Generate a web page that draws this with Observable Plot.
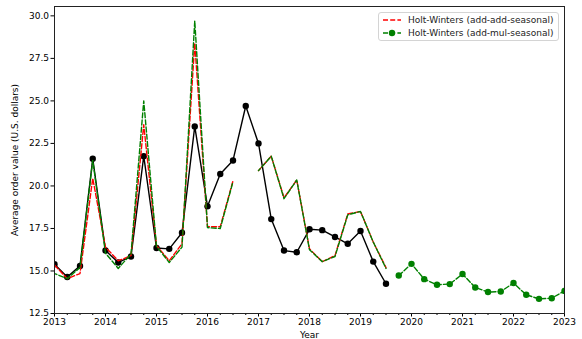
<!DOCTYPE html>
<html><head><meta charset="utf-8">
<script src="https://cdn.jsdelivr.net/npm/d3@7"></script>
<script src="https://cdn.jsdelivr.net/npm/@observablehq/plot@0.6"></script>
<style>
body{margin:0;background:#fff}
#wrap{position:relative;width:582px;height:339px}
.legend{position:absolute;left:378px;top:12px;width:181px;height:29px;border:1px solid #d4d4d4;border-radius:3px;background:rgba(255,255,255,0.85);box-sizing:border-box}
</style></head>
<body><div id="wrap"></div>
<script>
const actualYear = [2013,2013.25,2013.5,2013.75,2014,2014.25,2014.5,2014.75,2015,2015.25,2015.5,2015.75,2016,2016.25,2016.5,2016.75,2017,2017.25,2017.5,2017.75,2018,2018.25,2018.5,2018.75,2019,2019.25,2019.5];
const actualValue = [15.4,14.65,15.3,21.6,16.2,15.5,15.85,21.75,16.35,16.3,17.25,23.5,18.8,20.7,21.5,24.7,22.5,18.05,16.2,16.1,17.45,17.4,17.0,16.6,17.35,15.55,14.25];
const fitAddAdd = [15.35,14.55,14.85,20.45,16.4,15.6,15.9,23.6,16.5,15.6,16.6,28.4,17.6,17.6,20.3,null,20.9,21.75,19.3,20.35,16.3,15.55,15.9,18.35,18.5,16.7,15.2];
const fitAddMul = [14.85,14.55,15.2,21.5,16.05,15.15,16.0,25.0,16.45,15.5,16.4,29.7,17.55,17.5,20.25,null,20.9,21.75,19.25,20.35,16.25,15.55,15.85,18.3,18.5,16.7,15.15];
const forecastYear = [2019.75,2020,2020.25,2020.5,2020.75,2021,2021.25,2021.5,2021.75,2022,2022.25,2022.5,2022.75,2023];
const forecastValue = [14.73,15.42,14.52,14.19,14.23,14.82,14.03,13.76,13.79,14.29,13.6,13.36,13.4,13.83];
const xTicks = [2013,2014,2015,2016,2017,2018,2019,2020,2021,2022,2023];
const yTicks = [12.5,15.0,17.5,20.0,22.5,25.0,27.5,30.0];
const legendLabels = ["Holt-Winters (add-add-seasonal)","Holt-Winters (add-mul-seasonal)"];

const actual = actualYear.map((x,i)=>({x, y: actualValue[i]}));
const fitA = actualYear.map((x,i)=>({x, y: fitAddAdd[i]}));
const fitM = actualYear.map((x,i)=>({x, y: fitAddMul[i]}));
const fc = forecastYear.map((x,i)=>({x, y: forecastValue[i]}));
const minor = [];
for (let i=0;i<xTicks.length-1;i++) for (const q of [0.25,0.5,0.75]) minor.push(xTicks[i]+q);

const dash = "5,2.2";
const chart = Plot.plot({
  width:582, height:339,
  marginLeft:54, marginRight:18, marginTop:6, marginBottom:26,
  style:{fontFamily:"DejaVu Sans", fontSize:"9px", color:"#000", background:"#fff"},
  x:{domain:[2013,2023]},
  y:{domain:[12.5,30.55]},
  marks:[
    Plot.axisX({ticks:minor, tickSize:2, tickFormat:()=>"", label:null}),
    Plot.axisX({ticks:xTicks, tickSize:3.5, tickPadding:2, tickFormat:d=>String(d), label:"Year", labelAnchor:"center", labelArrow:"none", labelOffset:24}),
    Plot.axisY({ticks:yTicks, tickSize:3.5, tickPadding:2, tickFormat:d=>d.toFixed(1), label:"Average order value (U.S. dollars)", labelAnchor:"center", labelArrow:"none", labelOffset:43}),
    Plot.line(actual, {x:"x", y:"y", stroke:"black", strokeWidth:1.4, clip:true}),
    Plot.dot(actual, {x:"x", y:"y", fill:"black", r:3.2, clip:true}),
    Plot.line(fitA, {x:"x", y:"y", stroke:"#ff0000", strokeWidth:1.4, strokeDasharray:dash, clip:true}),
    Plot.line(fitM, {x:"x", y:"y", stroke:"#008000", strokeWidth:1.4, strokeDasharray:dash, strokeDashoffset:2.5, clip:true}),
    Plot.line(fc, {x:"x", y:"y", stroke:"#008000", strokeWidth:1.4, strokeDasharray:dash, clip:true}),
    Plot.dot(fc, {x:"x", y:"y", fill:"#008000", r:3.2, clip:true}),
    Plot.frame({stroke:"#222", strokeWidth:1})
  ]
});
const wrap = document.getElementById("wrap");
wrap.appendChild(chart);
const lg = document.createElement("div");
lg.className = "legend";
lg.innerHTML = `<svg width="181" height="29" style="position:absolute;left:-1px;top:-1px;font:9px 'DejaVu Sans'">
<line x1="5" x2="23" y1="8" y2="8" stroke="#ff0000" stroke-width="1.4" stroke-dasharray="${dash}"/>
<text x="30" y="8" dy="0.35em" fill="#222">${legendLabels[0]}</text>
<line x1="5" x2="23" y1="21" y2="21" stroke="#008000" stroke-width="1.4" stroke-dasharray="${dash}"/>
<circle cx="14" cy="21" r="3.2" fill="#008000"/>
<text x="30" y="21" dy="0.35em" fill="#222">${legendLabels[1]}</text>
</svg>`;
wrap.appendChild(lg);
</script>
</body></html>
